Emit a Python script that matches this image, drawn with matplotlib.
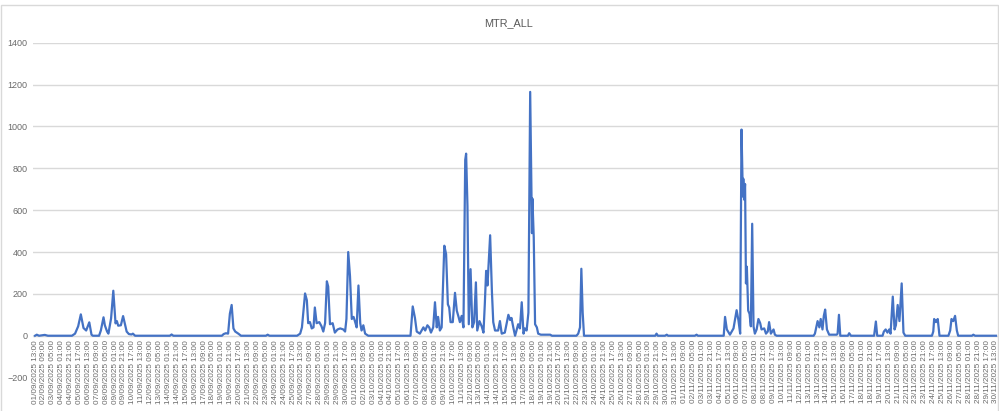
import numpy as np
import pandas as pd
import matplotlib
matplotlib.use("Agg")
import matplotlib.pyplot as plt
from matplotlib.patches import Rectangle

# MTR_ALL readings: hours after 01/09/2025 13:00 and value
hours = [
    0, 4, 9, 22, 29, 83, 90, 97, 103, 109, 115, 122, 127, 130, 144, 148, 154, 157, 162,
    165, 171, 176, 181, 184, 187, 193, 198, 206, 211, 217, 220, 225, 303, 307, 311,
    420, 424, 429, 434, 438, 442, 446, 450, 457, 463, 519, 523, 527,
    589, 596, 600, 607, 611, 614, 618, 622, 626, 629, 633, 639, 644, 648, 652, 656, 659,
    663, 669, 674, 680, 686, 693, 697, 700, 704, 708, 712, 716, 719, 723, 727, 731, 734,
    738, 742, 749,
    844, 849, 854, 858, 865, 873, 877, 882, 886, 890, 895, 899, 903, 906, 910, 914, 920,
    924, 928, 931, 934, 939, 944, 948, 952, 955, 959, 963, 967, 969, 972, 975, 979, 983,
    987, 991, 994, 999, 1004, 1008, 1011, 1014, 1017, 1019, 1023, 1027, 1030, 1034, 1041,
    1045, 1049, 1056, 1064, 1068, 1071, 1075, 1079, 1081, 1086, 1090, 1094, 1098, 1101,
    1105, 1109, 1113, 1117, 1118, 1121, 1124, 1128, 1131, 1137, 1158, 1162,
    1217, 1221, 1225, 1228, 1231, 1234, 1394, 1397, 1400, 1416, 1420, 1423, 1483, 1487, 1490,
    1548, 1551, 1555, 1562, 1570, 1577, 1581, 1585, 1588, 1591, 1592, 1594, 1596, 1598,
    1600, 1603, 1606, 1609, 1612, 1615, 1618, 1622, 1626, 1630, 1633, 1639, 1643, 1647,
    1650, 1654, 1660, 1663, 1667,
    1750, 1753, 1759, 1763, 1766, 1770, 1773, 1776, 1780, 1785, 1802, 1804, 1807, 1810,
    1827, 1830, 1834, 1886, 1890, 1893, 1905, 1908, 1912, 1916, 1920, 1923, 1928, 1932,
    1935, 1939, 1943, 1948, 1952, 1956, 2016, 2019, 2021, 2025, 2029, 2033,
    2053, 2057, 2060, 2064, 2068, 2072, 2075, 2106, 2109, 2113, 2160,
]
values = [
    0, 5, 0, 4, 0, 0, 10, 45, 102, 37, 25, 64, 5, 0, 0, 25, 88, 50, 20,
    10, 83, 215, 59, 70, 48, 50, 94, 20, 8, 6, 10, 0, 0, 6, 0,
    0, 8, 12, 10, 105, 147, 35, 20, 10, 0, 0, 5, 0,
    0, 10, 40, 202, 170, 60, 65, 35, 40, 135, 60, 65, 45, 20, 60, 260, 235,
    55, 60, 15, 30, 35, 30, 20, 80, 400, 285, 80, 90, 70, 40, 240, 60, 25,
    50, 10, 0,
    0, 140, 85, 20, 10, 40, 25, 50, 40, 15, 40, 160, 40, 90, 25, 40, 430,
    390, 150, 135, 65, 65, 205, 120, 90, 65, 95, 40, 840, 870, 620, 55, 318, 40,
    65, 255, 25, 70, 45, 15, 150, 310, 240, 320, 480, 210, 65, 25, 25,
    70, 10, 15, 100, 75, 85, 40, 0, 15, 55, 35, 160, 10, 35,
    25, 110, 1165, 490, 655, 470, 55, 40, 10, 5, 5, 0,
    0, 10, 40, 320, 110, 0, 0, 10, 0, 0, 5, 0, 0, 5, 0,
    0, 90, 30, 5, 35, 122, 75, 10, 985, 665, 750, 650, 725, 250,
    330, 120, 105, 45, 535, 45, 10, 30, 80, 60, 30, 35, 10, 20,
    65, 10, 30, 5, 0,
    0, 10, 70, 40, 80, 30, 95, 125, 30, 5, 5, 10, 100, 0,
    0, 12, 0, 0, 68, 0, 0, 20, 30, 15, 30, 10, 187, 30,
    50, 147, 70, 250, 15, 0, 0, 20, 80, 65, 80, 0,
    0, 25, 80, 70, 95, 25, 0, 0, 5, 0, 0,
]

start = pd.Timestamp("2025-09-01 13:00")
tick_hours = np.arange(0, 2161, 20)
tick_labels = [(start + pd.Timedelta(hours=int(h))).strftime("%d/%m/%Y %H:%M") for h in tick_hours]

grey = "#6a6a6a"
fig = plt.figure(figsize=(9.99, 4.11), dpi=100)
ax = fig.add_axes([33 / 999, 1 - 377.6 / 411, 965 / 999, (377.6 - 42.7) / 411])

ax.plot(hours, values, color="#4472C4", lw=1.6, zorder=3)

ax.set_xlim(-4.5, 2164.5)
ax.set_ylim(-200, 1400)
ax.set_yticks(np.arange(-200, 1401, 200))
ax.grid(axis="y", color="#D9D9D9", lw=1.0)
ax.set_axisbelow(True)

for s in ["top", "right", "left"]:
    ax.spines[s].set_visible(False)
ax.spines["bottom"].set_position(("data", 0))
ax.spines["bottom"].set_color("#D9D9D9")

ax.set_xticks(tick_hours)
ax.set_xticklabels(tick_labels, rotation=90, fontsize=5.9, color=grey,
                   family="Liberation Sans")
ax.tick_params(axis="x", length=0, pad=3)
ax.tick_params(axis="y", length=0, pad=4, labelsize=6.5, labelcolor=grey)
for lab in ax.get_yticklabels():
    lab.set_family("Liberation Sans")

fig.text(509 / 999, 1 - 22.7 / 411, "MTR_ALL", ha="center", va="center",
         fontsize=7.8, color="#595959", family="Liberation Sans")

fig.patches.append(Rectangle((1 / 999, -0.02), 997 / 999, 1.02 - 5 / 411,
                             transform=fig.transFigure, fill=False,
                             edgecolor="#D9D9D9", lw=1.0))

fig.savefig("out.png", dpi=100)
